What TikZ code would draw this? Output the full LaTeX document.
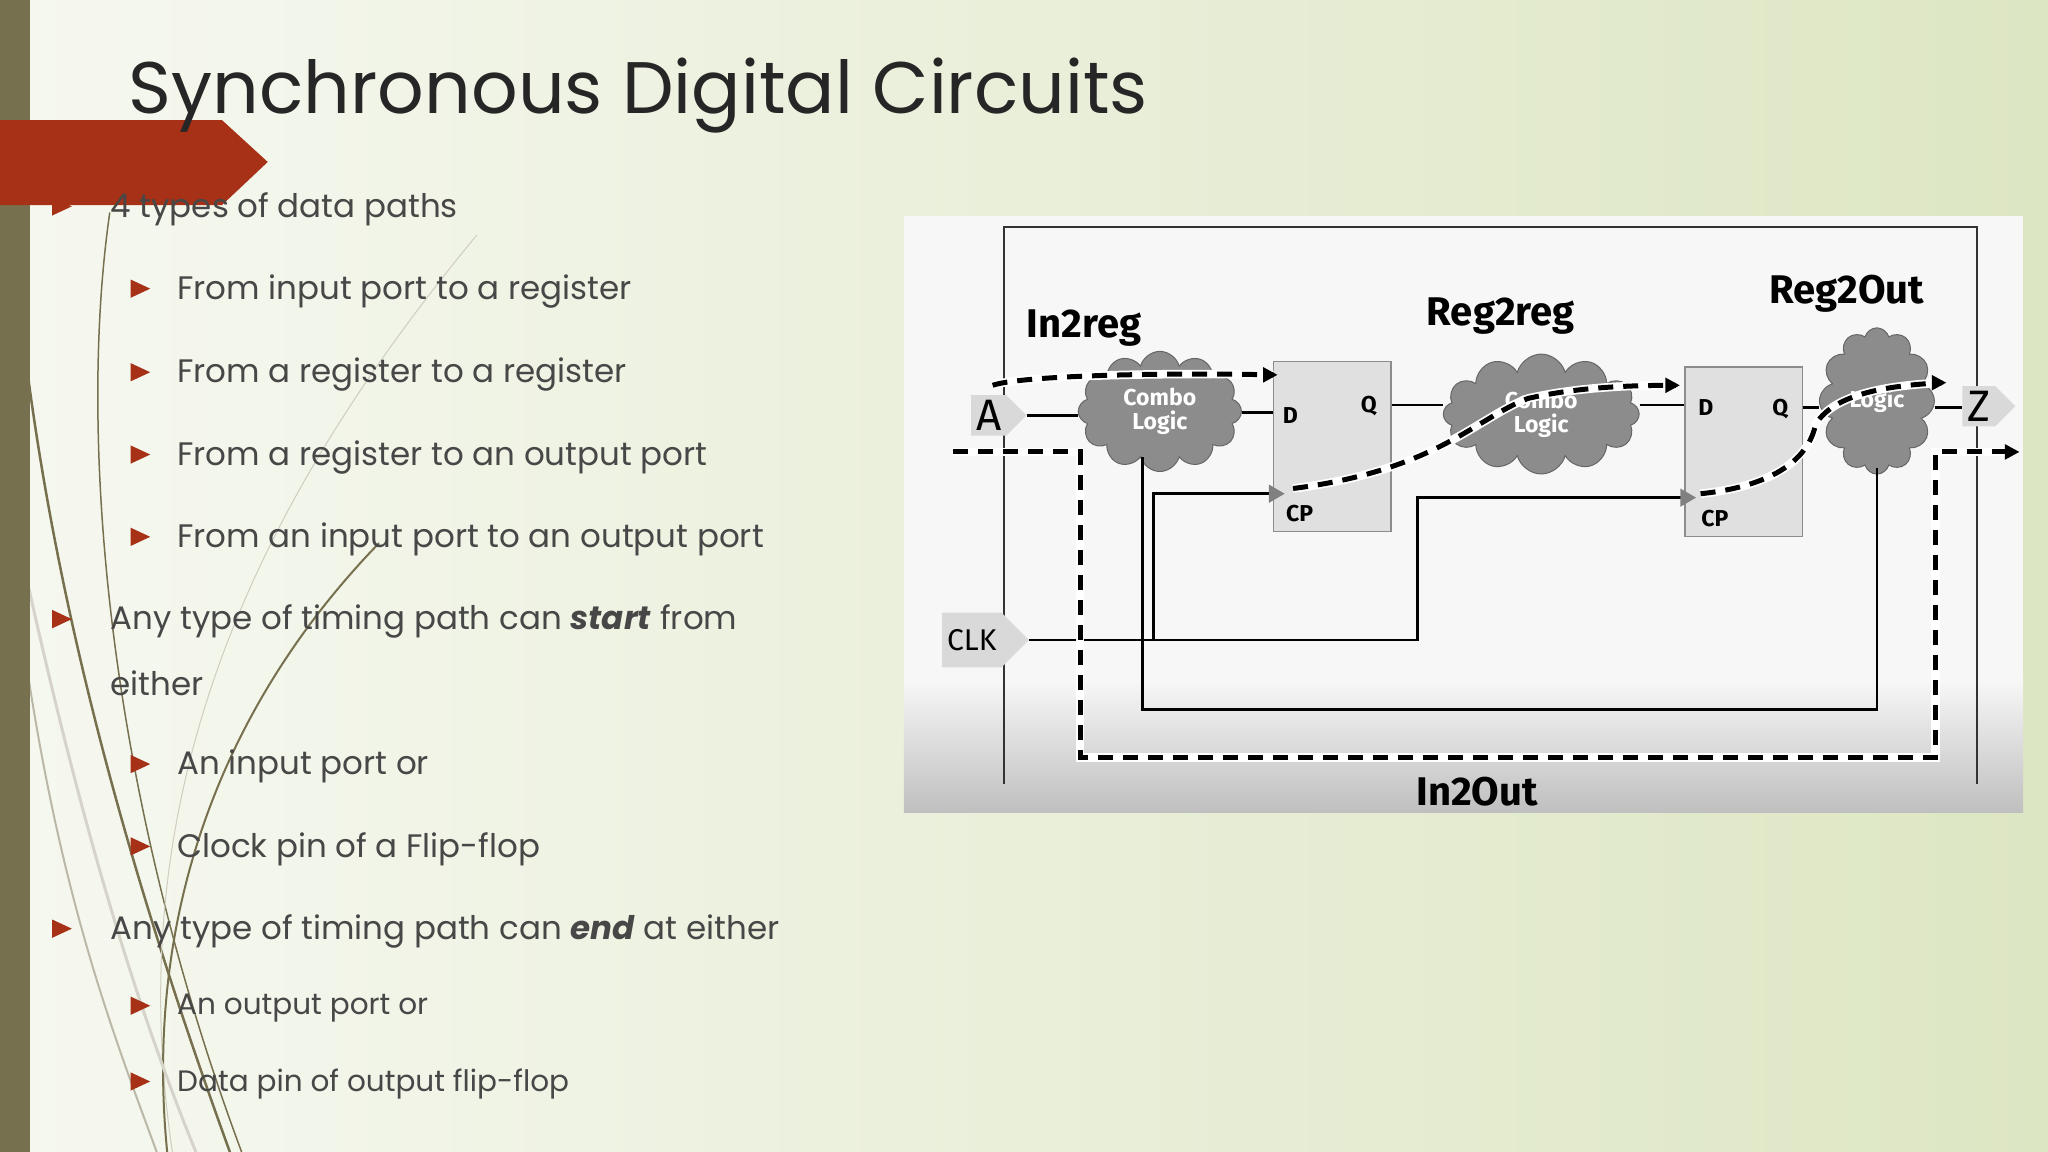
\documentclass[tikz,border=0pt]{standalone}
\usepackage{fontspec}
\setmainfont{Poppins}
\newfontfamily\dfont{Fira Sans}
\usetikzlibrary{shapes.symbols,shapes.geometric,arrows.meta}
\newdimen\pxu \pxu=1.306pt
\definecolor{olive}{HTML}{77704F}
\definecolor{bred}{HTML}{A63116}
\definecolor{bgl}{HTML}{F6F8F0}
\definecolor{bgr}{HTML}{DDE6C3}
\begin{document}
\begin{tikzpicture}[x=1.306pt,y=-1.306pt,
  txa/.style={anchor=west,font=\fontsize{32.5}{36}\selectfont,text=black!72},
  txb/.style={anchor=west,font=\fontsize{29.5}{33}\selectfont,text=black!72},
  ff/.style={draw=black!45,fill=black!12,minimum width=90\pxu,minimum height=130\pxu,line width=1.2pt},
  cl/.style={cloud,cloud puffs=12,draw=black!60,fill=black!45,line width=1pt,text=white,font=\dfont\bfseries\fontsize{23}{24}\selectfont,align=center,inner sep=0pt},
  pt/.style={signal,signal to=east,fill=black!15,font=\dfont\fontsize{44}{44}\selectfont,inner sep=5pt},
  lab/.style={font=\dfont\bfseries\fontsize{40}{40}\selectfont},
  pin/.style={font=\dfont\bfseries\fontsize{23}{23}\selectfont},
  wire/.style={line width=2.8pt},
  dsh/.style={line width=5pt,dash pattern=on 15pt off 10pt},
  dshw/.style={line width=8.5pt,white}]
\useasboundingbox (0,0) rectangle (1568,882);
\shade[left color=bgl,right color=bgr] (0,0) rectangle (1568,882);
% decorative curves
\begin{scope}[olive,line cap=round]
\draw[line width=1.5pt] (84,163) .. controls (60,330) and (80,600) .. (185,882);
\draw[line width=2.5pt] (22,292) .. controls (50,500) and (110,700) .. (176,882);
\draw[line width=1pt,olive!35] (365,180) .. controls (200,380) and (90,600) .. (132,882);
\draw[line width=2pt] (290,416) .. controls (170,540) and (110,700) .. (128,882);
\draw[line width=3pt,olive!30] (22,450) .. controls (60,620) and (100,760) .. (150,882);
\draw[line width=2pt,olive!50] (22,520) .. controls (50,700) and (90,800) .. (120,882);
\end{scope}
\fill[olive] (0,0) rectangle (23,882);
\fill[bred] (0,92) -- (170,92) -- (205,124) -- (170,157) -- (0,157) -- cycle;
\node[anchor=base west,font=\fontsize{73}{73}\selectfont,text=black!85] (title) at (96,87) {Synchronous Digital Circuits};
% bullets
\foreach \y in {158,474,711} \fill[bred] (40,\y-7) -- (55,\y) -- (40,\y+7) -- cycle;
\foreach \y in {221,285,348,411,585,648,770,828} \fill[bred] (100,\y-7) -- (115,\y) -- (100,\y+7) -- cycle;
\node[txa] (t1) at (82,160) {4 types of data paths};
\node[txa] (t2) at (133,223) {From input port to a register};
\node[txa] (t3) at (133,287) {From a register to a register};
\node[txa] (t4) at (133,350) {From a register to an output port};
\node[txa] (t5) at (133,413) {From an input port to an output port};
\node[txa] (t6) at (82,476) {Any type of timing path can \textbf{\textit{start}} from};
\node[txa] (t6b) at (82,523) {either};
\node[txa] (t7) at (133,587) {An input port or};
\node[txa] (t8) at (133,650) {Clock pin of a Flip-flop};
\node[txa] (t9) at (82,713) {Any type of timing path can \textbf{\textit{end}} at either};
\node[txb] (t10) at (133,772) {An output port or};
\node[txb] (t11) at (133,830) {Data pin of output flip-flop};
% diagram background
\fill[white!97!black] (692,165) rectangle (1549,622);
\shade[top color=white!97!black,bottom color=black!25] (692,520) rectangle (1549,622);
\draw[line width=2pt,black!80] (769,600) -- (769,174) -- (1514,174) -- (1514,600);
% ports
\node[pt] (pA) at (757,318) {A};
\node[pt] (pZ) at (1515,311) {Z};
\node[pt,font=\dfont\fontsize{30}{30}\selectfont,minimum height=42\pxu] (pC) at (744,490) {CLK};
% clouds
\node[cl,minimum width=125\pxu,minimum height=92\pxu] (c1) at (888,315) {Combo\\Logic};
\node[cl,minimum width=150\pxu,minimum height=72\pxu] (c2) at (1180,317) {Combo\\Logic};
\node[cl,minimum width=88\pxu,minimum height=112\pxu] (c3) at (1437,307) {Logic};
% flip flops
\node[ff] (f1) at (1020,342) {};
\node[ff] (f2) at (1335,346) {};
\node[pin] (d1) at (988,318) {D};
\node[pin] (q1) at (1048,311) {Q};
\node[pin] (cp1) at (995,393) {CP};
\node[pin] (d2) at (1306,312) {D};
\node[pin] (q2) at (1363,313) {Q};
\node[pin] (cp2) at (1313,397) {CP};
% labels
\node[lab] (l1) at (830,251) {In2reg};
\node[lab] (l2) at (1149,242) {Reg2reg};
\node[lab] (l3) at (1414,225) {Reg2Out};
\node[lab] (l4) at (1131,606) {In2Out};
% wires
\coordinate (k1) at (875,350);
\coordinate (k2) at (883,378);
\coordinate (k3) at (1085,381);
\coordinate (k4) at (1437,358);
\draw[wire] (pA.east) -- (c1.west |- pA.east);
\draw[wire] (c1.east |- 0,316) -- (f1.west |- 0,316);
\draw[wire] (f1.east |- 0,310) -- (c2.west |- 0,310);
\draw[wire] (c2.east |- 0,310) -- (f2.west |- 0,310);
\draw[wire] (f2.east |- 0,312) -- (c3.west |- 0,312);
\draw[wire] (c3.east |- 0,312) -- (pZ.west |- 0,312);
\draw[wire] (pC.east) -- (k3 |- pC.east) -- (k3) -- (f2.west |- k3);
\draw[wire] (k2 |- pC.east) -- (k2) -- (f1.west |- k2);
\draw[wire] (k1) -- (875,543) -- (1437,543) -- (k4);
\fill[black!50] (f1.west |- k2) ++(-3,-7) -- ++(12,7) -- ++(-12,7) -- cycle;
\fill[black!50] (f2.west |- k3) ++(-3,-7) -- ++(12,7) -- ++(-12,7) -- cycle;
% dashed paths
\coordinate (s1) at (760,295); \coordinate (e1) at (975,287);
\coordinate (s2) at (990,374); \coordinate (e2) at (1283,295);
\coordinate (s3) at (1302,378); \coordinate (e3) at (1487,293);
\coordinate (s4) at (730,346); \coordinate (e4) at (1543,346);
\foreach \st in {dshw,dsh}{
\draw[\st] (s1) .. controls (780,288) and (880,285) .. (e1);
\draw[\st] (s2) .. controls (1100,360) and (1130,320) .. (1170,305) .. controls (1210,296) and (1250,295) .. (e2);
\draw[\st] (s3) .. controls (1360,372) and (1385,350) .. (1390,325) .. controls (1405,300) and (1450,295) .. (e3);
\draw[\st] (s4) -- (827,346) -- (827,580) -- (1482,580) -- (1482,346) -- (e4);
}
\fill (e1) ++(-8,-6) -- ++(11,6) -- ++(-11,6) -- cycle;
\fill (e2) ++(-8,-6) -- ++(11,6) -- ++(-11,6) -- cycle;
\fill (e3) ++(-8,-6) -- ++(11,6) -- ++(-11,6) -- cycle;
\fill (e4) ++(-8,-6) -- ++(11,6) -- ++(-11,6) -- cycle;
\end{tikzpicture}
\end{document}
